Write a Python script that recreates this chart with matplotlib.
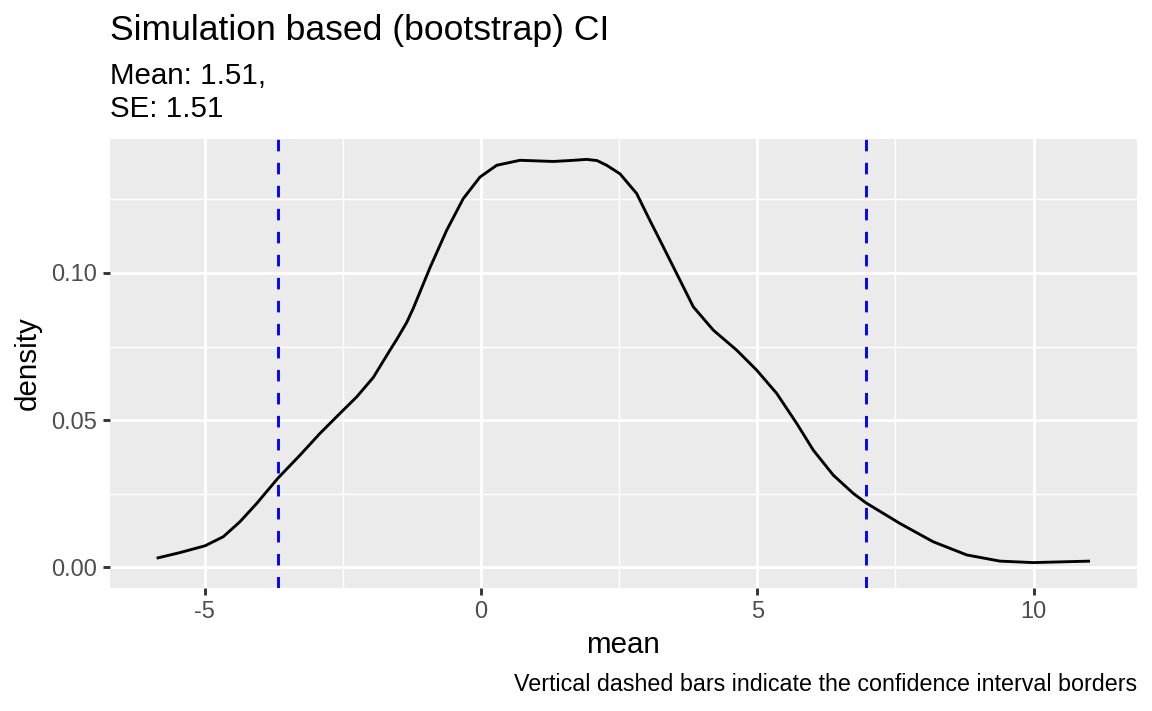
import matplotlib
matplotlib.use("Agg")
import matplotlib.pyplot as plt
from matplotlib.ticker import FixedLocator

plt.rcParams['font.family'] = ['Liberation Sans', 'DejaVu Sans']

# Data (kernel density estimate of bootstrap means)
mean_x = [-5.868, -5.446, -4.994, -4.662, -4.360, -4.058, -3.678, -3.275, -2.913, -2.551,
          -2.249, -1.949, -1.646, -1.525, -1.344, -1.225, -0.923, -0.621, -0.320, -0.018,
          0.284, 0.706, 1.000, 1.308, 1.600, 1.912, 2.100, 2.274, 2.515, 2.817,
          2.937, 3.058, 3.239, 3.541, 3.842, 4.203, 4.626, 4.988, 5.350, 5.712,
          6.013, 6.375, 6.737, 6.966, 7.431, 7.580, 8.180, 8.790, 9.390, 9.990,
          10.600, 11.020]
density_y = [0.0031, 0.0050, 0.0073, 0.0104, 0.0155, 0.0217, 0.0302, 0.0381, 0.0455, 0.0523,
             0.0579, 0.0645, 0.0738, 0.0774, 0.0832, 0.0880, 0.1018, 0.1145, 0.1253, 0.1326,
             0.1366, 0.1383, 0.1381, 0.1379, 0.1382, 0.1386, 0.1382, 0.1366, 0.1337, 0.1270,
             0.1224, 0.1178, 0.1111, 0.0998, 0.0885, 0.0806, 0.0738, 0.0670, 0.0591, 0.0489,
             0.0398, 0.0313, 0.0251, 0.0219, 0.0166, 0.0149, 0.0087, 0.0042, 0.0021, 0.0016,
             0.0019, 0.0021]
ci_bounds = [-3.667, 6.966]

x_ticks = [-5, 0, 5, 10]
x_tick_labels = ["-5", "0", "5", "10"]
y_ticks = [0.00, 0.05, 0.10]
y_tick_labels = ["0.00", "0.05", "0.10"]

title = "Simulation based (bootstrap) CI"
subtitle_lines = ["Mean: 1.51,", "SE: 1.51"]
caption = "Vertical dashed bars indicate the confidence interval borders"
x_title = "mean"
y_title = "density"

DPI = 172.8
W, H = 1152, 711
fig = plt.figure(figsize=(W / DPI, H / DPI), dpi=DPI)
L, R, T, B = 110, 1136.7, 139, 587.7
ax = fig.add_axes([L / W, 1 - B / H, (R - L) / W, (B - T) / H])

ax.set_facecolor('#EBEBEB')
for s in ax.spines.values():
    s.set_visible(False)

# limits with ggplot-like 5% expansion
xmin, xmax = min(mean_x), max(mean_x)
xr = xmax - xmin
ax.set_xlim(xmin - 0.05 * xr, xmax + 0.05 * xr)
ymax = max(density_y)
ax.set_ylim(-0.05 * ymax, ymax * 1.05)

ax.xaxis.set_major_locator(FixedLocator(x_ticks))
ax.set_xticklabels(x_tick_labels)
ax.yaxis.set_major_locator(FixedLocator(y_ticks))
ax.set_yticklabels(y_tick_labels)
ax.xaxis.set_minor_locator(FixedLocator([-2.5, 2.5, 7.5]))
ax.yaxis.set_minor_locator(FixedLocator([0.025, 0.075, 0.125]))

FS = 1.12
LW = 1.07 * FS
ax.grid(which='major', color='white', linewidth=LW)
ax.grid(which='minor', color='white', linewidth=LW / 2)
ax.set_axisbelow(True)
ax.tick_params(which='major', length=2.75 * FS, width=LW, color='#333333',
               labelsize=8.8 * FS, labelcolor='#4D4D4D', pad=2.2 * FS)
ax.tick_params(which='minor', length=0)

ax.plot(mean_x, density_y, color='black', linewidth=LW,
        solid_joinstyle='round', solid_capstyle='butt')
for v in ci_bounds:
    ax.axvline(v, color='#0000FF', linewidth=LW, linestyle=(0, (4, 4)))

ax.set_xlabel(x_title, fontsize=11 * FS)
ax.xaxis.set_label_coords((L + R) / 2 / W, 1 - 652.7 / H, transform=fig.transFigure)
ax.xaxis.label.set_va('baseline')
ax.set_ylabel(y_title, fontsize=11 * FS)
ax.yaxis.set_label_coords(28 / W, 1 - (T + B) / 2 / H, transform=fig.transFigure)
ax.yaxis.label.set_va('center')

fig.text(L / W, 1 - 40 / H, title, fontsize=13.2 * FS, ha='left', va='baseline')
fig.text(L / W, 1 - 84 / H, subtitle_lines[0], fontsize=11 * FS, ha='left', va='baseline')
fig.text(L / W, 1 - 116.7 / H, subtitle_lines[1], fontsize=11 * FS, ha='left', va='baseline')
fig.text(R / W, 1 - 691 / H, caption, fontsize=8.8 * 1.10, ha='right', va='baseline')

fig.savefig("out.png", dpi=DPI)
